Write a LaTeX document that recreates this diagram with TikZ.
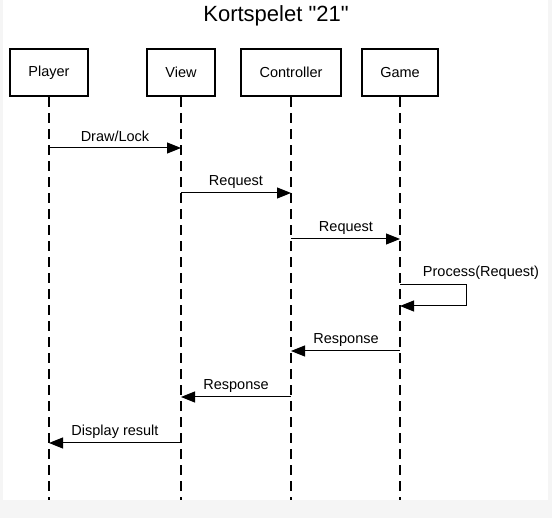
\documentclass[tikz,border=0pt]{standalone}
\usepackage{fontspec}
\setmainfont{Liberation Sans}
\usetikzlibrary{arrows.meta}
\definecolor{bggray}{HTML}{F5F5F5}
\newcommand{\straightquote}{\XeTeXglyph\XeTeXcharglyph"22\relax}
\tikzset{
  actor/.style={draw=black, line width=2.4pt, fill=white, inner sep=0pt, minimum height=47pt, font=\fontsize{14.5}{17}\selectfont},
  lifeline/.style={line width=1.3pt, dash pattern=on 10pt off 6pt},
  msg/.style={line width=1pt, -{Triangle[length=14pt, width=11pt]}},
  lbl/.style={font=\fontsize{14.5}{17}\selectfont, inner sep=0pt},
}
\begin{document}
\begin{tikzpicture}[x=1pt, y=-1pt]
\useasboundingbox (0,0) rectangle (552,518);
\fill[bggray] (0,0) rectangle (552,518);
\fill[white] (3,0) rectangle (548,500);
\node[font=\fontsize{22}{26}\selectfont] (title) at (276,16) {Kortspelet \straightquote21\straightquote};
% lifelines
\coordinate (pb) at (49,500);
\coordinate (vb) at (181,500);
\coordinate (cb) at (291,500);
\coordinate (gb) at (400,500);
\node[actor, minimum width=78pt] (player) at (49,72.5) {Player};
\node[actor, minimum width=68pt] (view) at (181,72.5) {View};
\node[actor, minimum width=100pt] (ctrl) at (291,72.5) {Controller};
\node[actor, minimum width=76pt] (game) at (400,72.5) {Game};
\draw[lifeline] (player.south) -- (pb);
\draw[lifeline] (view.south) -- (vb);
\draw[lifeline] (ctrl.south) -- (cb);
\draw[lifeline] (game.south) -- (gb);
% message anchor points
\coordinate (p1) at (49,148); \coordinate (v1) at (181,148);
\coordinate (v2) at (181,193); \coordinate (c2) at (291,193);
\coordinate (c3) at (291,239); \coordinate (g3) at (400,239);
\coordinate (g4) at (400,285); \coordinate (g4r) at (466,285);
\coordinate (g5) at (400,306); \coordinate (g5r) at (466,306);
\coordinate (g6) at (400,351); \coordinate (c6) at (291,351);
\coordinate (c7) at (291,397); \coordinate (v7) at (181,397);
\coordinate (v8) at (181,443); \coordinate (p8) at (49,443);
\draw[msg] (p1) -- (v1);
\node[lbl] (l1) at (115,136) {Draw/Lock};
\draw[msg] (v2) -- (c2);
\node[lbl] (l2) at (236,182) {Request};
\draw[msg] (c3) -- (g3);
\node[lbl] (l3) at (346,228) {Request};
\draw[msg] (g4) -- (g4r) -- (g5r) -- (g5);
\node[lbl] (l4) at (481,273) {Process(Request)};
\draw[msg] (g6) -- (c6);
\node[lbl] (l5) at (346,340) {Response};
\draw[msg] (c7) -- (v7);
\node[lbl] (l6) at (236,386) {Response};
\draw[msg] (v8) -- (p8);
\node[lbl] (l7) at (115,432) {Display result};
\end{tikzpicture}
\end{document}
